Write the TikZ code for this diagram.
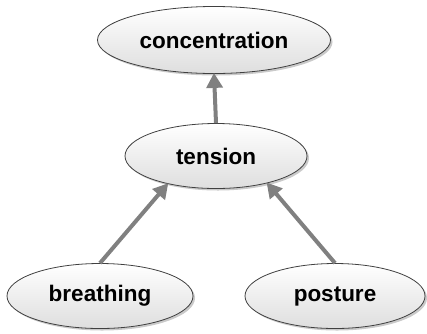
\documentclass[tikz,border=0pt]{standalone}
\usepackage{fontspec}
\setmainfont{Liberation Sans}
\usetikzlibrary{shapes.geometric,arrows.meta,shadows}
\definecolor{edgegray}{HTML}{404040}
\definecolor{arrowgray}{HTML}{808080}
\begin{document}
\begin{tikzpicture}[x=1pt,y=-1pt,
  oval/.style={ellipse, draw=edgegray, line width=0.8pt, inner sep=0pt,
    top color=white, bottom color=black!13,
    drop shadow={shadow xshift=2pt, shadow yshift=-2pt, opacity=0.35, fill=black!60},
    font=\fontsize{22.5}{26}\selectfont\bfseries},
  link/.style={draw=arrowgray, line width=4pt, -{Triangle[length=15pt,width=16pt]}, shorten >=-1pt}]
\useasboundingbox (0,0) rectangle (427,333);
\node[oval, minimum width=233pt, minimum height=67pt] (conc) at (214,40) {concentration};
\node[oval, minimum width=182pt, minimum height=65pt] (tens) at (216,156) {tension};
\node[oval, minimum width=186pt, minimum height=65pt] (breath) at (100,296) {breathing};
\node[oval, minimum width=180pt, minimum height=65pt] (post) at (335,296) {posture};
\draw[link] (tens.north) -- (conc.south);
\draw[link] (breath.north) -- (tens.-150);
\draw[link] (post.north) -- (tens.-28);
\end{tikzpicture}
\end{document}
